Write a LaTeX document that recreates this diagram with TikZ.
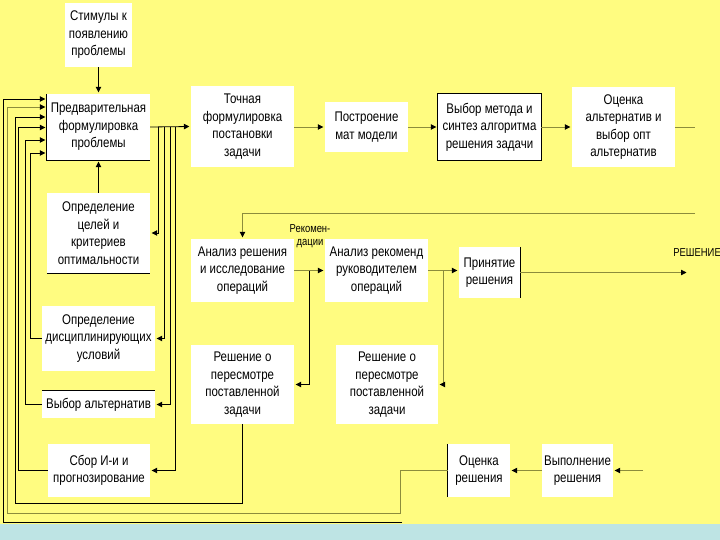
\documentclass[tikz,border=0pt]{standalone}
\usepackage{fontspec}
\setmainfont{Liberation Sans}[FakeStretch=0.82]
\usetikzlibrary{arrows.meta}
\definecolor{bgyel}{RGB}{255,252,128}
\definecolor{bgblue}{RGB}{190,228,228}
\definecolor{oli}{RGB}{140,140,60}
\tikzset{
  box/.style={fill=white, align=center, inner sep=0pt,
    font=\fontsize{14}{17.5}\selectfont},
  arr/.style={-{Triangle[length=5.5pt,width=5.5pt,color=black]}, shorten >=1.5pt},
  bl/.style={draw=black, line width=0.8pt},
  ol/.style={draw=oli, line width=0.8pt},
  edge/.style={draw=black, line width=0.9pt}
}
\begin{document}
\begin{tikzpicture}[x=1pt,y=-1pt]
\useasboundingbox (0,0) rectangle (720,540);
\fill[bgyel] (0,0) rectangle (720,540);
\fill[bgblue] (0,524) rectangle (720,540);

% boxes
\node[box, minimum width=67pt, minimum height=64pt] (stim) at (98.5,35) {Стимулы к\\появлению\\проблемы};
\node[box, minimum width=103pt, minimum height=66pt] (pre) at (98.5,127) {Предварительная\\формулировка\\проблемы};
\node[box, minimum width=103pt, minimum height=80pt] (goal) at (98.5,233) {Определение\\целей и\\критериев\\оптимальности};
\node[box, minimum width=113pt, minimum height=65pt] (disc) at (98.5,338.5) {Определение\\дисциплинирующих\\условий};
\node[box, minimum width=113pt, minimum height=27pt] (alt) at (98.5,404.5) {Выбор альтернатив};
\node[box, minimum width=102pt, minimum height=53pt] (col) at (99,470.5) {Сбор И-и и\\прогнозирование};
\node[box, minimum width=103pt, minimum height=81pt] (exact) at (242.5,126.5) {Точная\\формулировка\\постановки\\задачи};
\node[box, minimum width=83pt, minimum height=50pt] (model) at (366.5,127) {Построение\\мат модели};
\node[box, minimum width=103pt, minimum height=66pt] (meth) at (489.5,127) {Выбор метода и\\синтез алгоритма\\решения задачи};
\node[box, minimum width=103pt, minimum height=80pt] (est) at (623.5,127) {Оценка\\альтернатив и\\выбор опт\\альтернатив};
\node[box, minimum width=103pt, minimum height=63pt] (anr) at (242.5,270.5) {Анализ решения\\и исследование\\операций};
\node[box, minimum width=103pt, minimum height=63pt] (anm) at (376.5,270.5) {Анализ рекоменд\\руководителем\\операций};
\node[box, minimum width=61pt, minimum height=51pt] (acc) at (489.5,272.5) {Принятие\\решения};
\node[box, minimum width=103pt, minimum height=79pt] (rev1) at (242.5,384.5) {Решение о\\пересмотре\\поставленной\\задачи};
\node[box, minimum width=102pt, minimum height=79pt] (rev2) at (387,384.5) {Решение о\\пересмотре\\поставленной\\задачи};
\node[box, minimum width=62pt, minimum height=53pt] (eval) at (479,470.5) {Оценка\\решения};
\node[box, minimum width=71pt, minimum height=53pt] (exe) at (577.5,470.5) {Выполнение\\решения};

% partial box edges
\draw[edge] (pre.north west) -- (pre.south west) -- (pre.south east);
\draw[edge] (goal.south west) -- (goal.south east);
\draw[edge] (alt.north west) -- (alt.north east);
\draw[edge] (meth.north west) rectangle (meth.south east);
\draw[edge] (acc.north east) -- (acc.south east);
\draw[edge] (eval.north west) -- (eval.south west);

% labels
\node[font=\fontsize{11.5}{13.5}\selectfont, align=center, inner sep=0pt] (rec) at (310,236) {Рекомен-\\дации};
\node[font=\fontsize{11.5}{12}\selectfont, anchor=east, inner sep=0pt] (sol) at (721,253) {РЕШЕНИЕ};

% coordinates
\coordinate (solend) at (688,272.5);
\coordinate (estend) at (695,127);
\coordinate (topret) at (695,213);
\coordinate (exein) at (643,470.5);

% vertical arrows into pre
\draw[bl,arr] (stim.south) -- (pre.north);
\draw[bl,arr] (goal.north) -- (pre.south);

% main row
\draw[bl,arr] (pre.east) -- (exact.west);
\draw[ol,arr] (exact.east |- 0,127) -- (model.west);
\draw[ol,arr] (model.east) -- (meth.west);
\draw[ol,arr] (meth.east) -- (est.west);
\draw[ol] (est.east) -- (estend);

% branches from pre output
\draw[bl,arr] (158,127) |- (goal.east);
\draw[bl,arr] (164,127) |- (disc.east);
\draw[bl,arr] (170,127) |- (alt.east);
\draw[bl,arr] (175,127) |- (col.east);

% feedback into pre from the left
\draw[bl,arr] (disc.west) -- (30,338.5) |- (pre.west |- 0,153);
\draw[bl,arr] (alt.west) -- (25,404.5) |- (pre.west |- 0,140);
\draw[bl,arr] (col.west) -- (18,470.5) |- (pre.west |- 0,127.5);
\draw[bl,arr] (rev1.south) |- (15,503) |- (pre.west |- 0,117);
\draw[ol,arr] (eval.west) -| (400,513) -| (7,107) -- (pre.west |- 0,107);
\draw[bl,arr] (402,522) -| (3,99) -- (pre.west |- 0,99);

% second row
\draw[ol,arr] (topret) -| (anr.north);
\draw[ol,arr] (anr.east) -- (anm.west);
\draw[ol,arr] (anm.east) -- (anm.east -| acc.west);
\draw[ol,arr] (acc.east) -- (solend);
\draw[bl,arr] (309,270.5) |- (rev1.east);
\draw[ol,arr] (443,270.5) |- (rev2.east);

% bottom row
\draw[ol,arr] (exein) -- (exe.east);
\draw[ol,arr] (exe.west) -- (eval.east);
\end{tikzpicture}
\end{document}
